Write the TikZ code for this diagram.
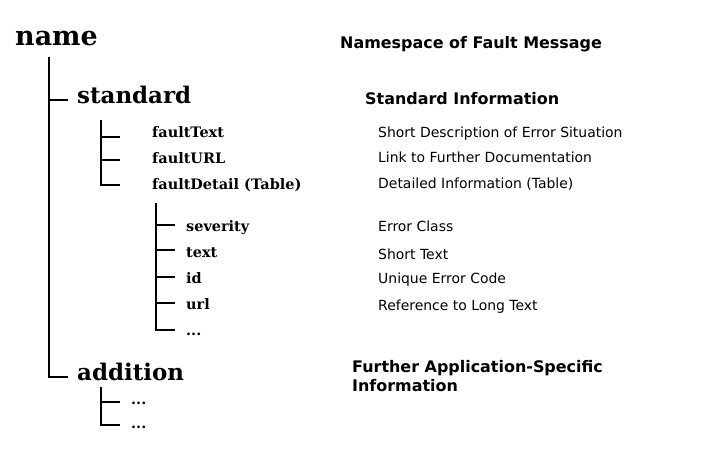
\documentclass[tikz,border=0pt]{standalone}
\usepackage{fontspec}
\setmainfont{DejaVu Serif}
\setsansfont{DejaVu Sans}
\begin{document}
\begin{tikzpicture}[x=1bp,y={(0,-1bp)},
  tl/.style={line width=1.3bp,black},
  t1/.style={anchor=base west,inner sep=0,font=\fontsize{27}{27}\selectfont\bfseries},
  t2/.style={anchor=base west,inner sep=0,font=\fontsize{23}{23}\selectfont\bfseries},
  t3/.style={anchor=base west,inner sep=0,font=\fontsize{14.5}{14.5}\selectfont\bfseries},
  hb/.style={anchor=base west,inner sep=0,font=\sffamily\bfseries\fontsize{16}{16}\selectfont},
  d/.style={anchor=base west,inner sep=0,font=\sffamily\fontsize{14}{14}\selectfont}]
\useasboundingbox (0,0) rectangle (720,450);
\node[t1] (name) at (15,46) {name};
\node[t2] (std) at (77,104) {standard};
\node[t2] (add) at (77,380) {addition};
\node[t3] (ft) at (152,138) {faultText};
\node[t3] (fu) at (152,164) {faultURL};
\node[t3] (fd) at (152,190) {faultDetail (Table)};
\node[t3] (sv) at (186,232) {severity};
\node[t3] (tx) at (186,258) {text};
\node[t3] (id) at (186,284) {id};
\node[t3] (ur) at (186,310) {url};
\node[t3] (dd) at (186,336) {...};
\node[t3] (a1) at (131,404) {...};
\node[t3] (a2) at (131,428) {...};
\node[hb] (h1) at (340,49) {Namespace of Fault Message};
\node[hb] (h2) at (365,105) {Standard Information};
\node[hb,align=left,anchor=north west] (h3) at (352,360) {Further Application-Specific\\[3pt]Information};
\node[d] (d1) at (378,138) {Short Description of Error Situation};
\node[d] (d2) at (378,163) {Link to Further Documentation};
\node[d] (d3) at (378,189) {Detailed Information (Table)};
\node[d] (d4) at (378,232) {Error Class};
\node[d] (d5) at (378,260) {Short Text};
\node[d] (d6) at (378,284) {Unique Error Code};
\node[d] (d7) at (378,311) {Reference to Long Text};
\coordinate (v0) at (49,57);
\draw[tl] (v0) -- (49,377) -- (68,377);
\draw[tl] (49,100) -- (68,100);
\draw[tl] (101,120) -- (101,185) -- (120,185);
\draw[tl] (101,137) -- (120,137);
\draw[tl] (101,160) -- (120,160);
\draw[tl] (156,203) -- (156,330) -- (175,330);
\foreach \y in {225,250,277,303} \draw[tl] (156,\y) -- (175,\y);
\draw[tl] (101,387) -- (101,425) -- (120,425);
\draw[tl] (101,402) -- (120,402);
\end{tikzpicture}
\end{document}
